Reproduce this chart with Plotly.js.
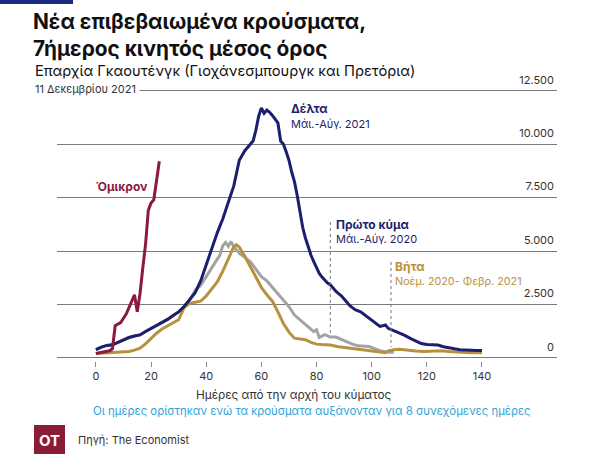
<!DOCTYPE html>
<html>
<head>
<meta charset="utf-8">
<script src="https://cdn.plot.ly/plotly-3.0.1.min.js"></script>
<style>
html,body{margin:0;padding:0;background:#fff;}
#chart{width:600px;height:474px;}
</style>
</head>
<body>
<div id="chart"></div>
<script>
// ---- Data ----
const deltaDays = [0,2,4,6,8,10,12,14,16,18,20,22,24,26,28,30,32,34,36,38,40,42,44,46,48,50,52,54,56,57,58,59,60,61,62,63,64,65,66,67,68,69,70,71,72,73,74,75,76,77,78,79,80,81,82,83,84,85,86,87,88,89,90,91,92,93,94,96,98,100,102,103,104,105,106,108,110,112,114,116,118,120,122,124,126,128,130,132,134,136,138,140];
const deltaCases = [380,500,580,610,720,850,950,1020,1070,1230,1370,1480,1620,1800,1980,2150,2400,2700,3050,3600,4350,5150,5850,6500,7250,8050,9250,9700,10000,10150,10650,11300,11700,11450,11600,11500,11350,11150,11000,10150,10000,9650,9250,8700,8250,7600,6900,6100,5600,5150,4800,4500,4200,3950,3780,3620,3500,3420,3250,3120,3000,2900,2750,2580,2450,2350,2250,2150,1950,1750,1550,1470,1500,1540,1380,1280,1180,1050,910,780,670,620,610,600,520,460,420,380,360,350,340,340];

const firstDays = [0,2,4,6,8,10,12,14,16,18,20,22,24,26,28,30,32,34,36,38,40,42,44,45,46,47,48,49,50,52,54,56,58,60,62,64,66,68,70,72,74,76,78,79,80,81,83,85,87,89,91,93,95,97,99,101,103,105,107,108];
const firstCases = [380,500,580,610,720,850,950,1020,1070,1230,1370,1480,1620,1800,1980,2150,2400,2700,3150,3400,3800,4200,4600,4820,5250,5400,5220,5440,5200,4900,4700,4500,4150,3800,3600,3300,3000,2700,2400,2000,1780,1550,1300,1230,1310,950,1080,970,970,850,750,640,560,560,530,430,330,280,250,250];

const betaDays = [0,2,4,6,8,10,12,14,16,18,20,22,24,26,28,30,32,34,36,38,40,42,44,46,48,50,51,52,54,56,58,60,62,64,66,68,70,72,74,76,78,80,82,85,88,91,94,97,100,103,105,106,108,110,113,116,119,122,125,128,131,134,137,140];
const betaCases = [200,220,230,250,260,280,300,360,450,650,900,1150,1350,1500,1620,1780,2350,2550,2600,2650,2900,3200,3550,4050,4650,5200,5300,5180,4750,4250,3750,3300,2950,2650,2150,1600,1200,920,880,850,720,640,620,600,520,470,410,370,330,270,240,320,380,400,350,320,300,320,330,290,260,250,240,240];

const omicronDays = [0,1,2,3,4,5,6,7,8,9,10,11,12,13,14,15,16,17,18,19,20,21,22,23];
const omicronCases = [200,220,250,270,300,330,420,1500,1580,1650,1850,2050,2350,2650,2950,2150,3000,4200,5300,6900,7250,7400,8200,9200];

const xTickVals = [0,20,40,60,80,100,120,140];
const yTickVals = [0,2500,5000,7500,10000,12500];

// ---- Layout helpers (pixel -> paper) ----
const L = 57, R = 557, T = 70, B = 361;
const px = x => (x - L) / (R - L);
const py = y => (B - y) / (B - T);

const FONT = 'Inter, "Noto Sans", sans-serif';
const navy = '#1b1f6e', gray = '#a3a3a3', gold = '#b8913f', wine = '#8b1a3e';

const traces = [
  {x: firstDays, y: firstCases, type:'scatter', mode:'lines', line:{color:gray, width:3}, hoverinfo:'skip'},
  {x: betaDays, y: betaCases, type:'scatter', mode:'lines', line:{color:gold, width:3}, hoverinfo:'skip'},
  {x: deltaDays, y: deltaCases, type:'scatter', mode:'lines', line:{color:navy, width:3}, hoverinfo:'skip'},
  {x: omicronDays, y: omicronCases, type:'scatter', mode:'lines', line:{color:wine, width:3}, hoverinfo:'skip'}
];

const ann = (x, y, text, opts={}) => Object.assign({
  xref:'paper', yref:'paper', x: px(x), y: py(y), text, showarrow:false,
  xanchor:'left', yanchor:'middle', font:{family:FONT, size:12, color:'#222'}
}, opts);

const layout = {
  width:600, height:474,
  margin:{l:L, r:600-R, t:T, b:474-B},
  paper_bgcolor:'#fff', plot_bgcolor:'#fff',
  showlegend:false,
  separators:',.',
  xaxis:{
    range:[-14.1,167.2], tickvals:xTickVals, ticks:'outside', ticklen:5, tickcolor:'#888',
    showgrid:false, zeroline:false, showline:false,
    tickfont:{family:FONT, size:11, color:'#333'}, fixedrange:true
  },
  yaxis:{
    range:[-150,13477], tickvals:yTickVals, tickformat:',d', side:'right',
    ticklabelposition:'inside', ticklabelshift:-11, ticks:'',
    showgrid:true, gridcolor:'#7a7a7a', gridwidth:1, zeroline:false, showline:false,
    tickfont:{family:FONT, size:11, color:'#333'}, fixedrange:true
  },
  shapes:[
    {type:'rect', xref:'paper', yref:'paper', x0:px(0), x1:px(73), y0:py(4), y1:py(0), fillcolor:'#1b2a80', line:{width:0}},
    {type:'line', xref:'x', yref:'paper', x0:85, x1:85, y0:py(222), y1:py(333), line:{color:'#777', width:1, dash:'dot'}},
    {type:'line', xref:'x', yref:'paper', x0:107, x1:107, y0:py(262), y1:py(347), line:{color:'#777', width:1, dash:'dot'}},
    {type:'rect', xref:'paper', yref:'paper', x0:px(34), x1:px(65), y0:py(454), y1:py(425), fillcolor:'#8a1c35', line:{width:0}}
  ],
  annotations:[
    ann(31, 35, '<b>Νέα επιβεβαιωμένα κρούσματα,<br>7ήμερος κινητός μέσος όρος</b>', {font:{family:FONT, size:20.8, color:'#111'}, align:'left'}),
    ann(33, 71, 'Επαρχία Γκαουτένγκ (Γιοχάνεσμπουργκ και Πρετόρια)', {font:{family:FONT, size:14.7, color:'#111'}}),
    ann(31, 89, '11 Δεκεμβρίου 2021', {font:{family:FONT, size:11, color:'#333'}, bgcolor:'#fff', borderpad:3}),
    ann(289, 108, '<b>Δέλτα</b>', {font:{family:FONT, size:12, color:navy}}),
    ann(289, 124, 'Μάι.-Αύγ. 2021', {font:{family:FONT, size:11, color:navy}}),
    ann(94, 186, '<b>Όμικρον</b>', {font:{family:FONT, size:12, color:wine}}),
    ann(334, 224, '<b>Πρώτο κύμα</b>', {font:{family:FONT, size:12, color:navy}}),
    ann(334, 239, 'Μάι.-Αύγ. 2020', {font:{family:FONT, size:11, color:navy}}),
    ann(393, 266, '<b>Βήτα</b>', {font:{family:FONT, size:12, color:gold}}),
    ann(393, 281, 'Νοέμ. 2020- Φεβρ. 2021', {font:{family:FONT, size:10.8, color:gold}}),
    ann(294, 395, 'Ημέρες από την αρχή του κύματος', {xanchor:'center', font:{family:FONT, size:11.8, color:'#333'}}),
    ann(312, 411, 'Οι ημέρες ορίστηκαν ενώ τα κρούσματα αυξάνονταν για 8 συνεχόμενες ημέρες', {xanchor:'center', font:{family:FONT, size:11.4, color:'#2fa4d6'}}),
    ann(49.5, 440, '<b>OT</b>', {xanchor:'center', font:{family:FONT, size:15, color:'#fff'}}),
    ann(76, 440, 'Πηγή: The Economist', {font:{family:FONT, size:11, color:'#333'}})
  ]
};

Plotly.newPlot('chart', traces, layout, {displayModeBar:false, staticPlot:true});
</script>
</body>
</html>
